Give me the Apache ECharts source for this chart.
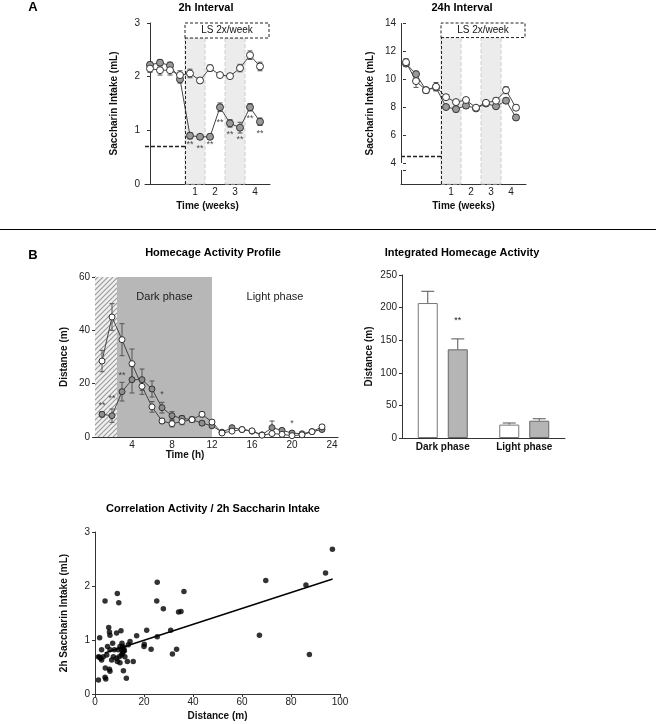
<!DOCTYPE html>
<html><head><meta charset="utf-8">
<script src="https://cdn.jsdelivr.net/npm/echarts@6/dist/echarts.min.js"></script>
<style>html,body{margin:0;padding:0;background:#fff}#c{width:656px;height:724px}</style>
</head><body><div id="c"></div>
<script>
// ---------- DATA ----------
const sessions = [0,1,2,3,4,5,6,7,8,9,10,11];
const weekLabels = ['1','2','3','4'];
const weekLabelPos = [4.5, 6.5, 8.5, 10.5];
// 2h interval
const tl_ctrl     = [2.15, 2.12, 2.12, 2.03, 2.06, 1.93, 2.16, 2.03, 2.01, 2.16, 2.40, 2.19];
const tl_ctrl_err = [0.07, 0.09, 0.09, 0.08, 0.08, 0.05, 0.06, 0.04, 0.04, 0.07, 0.08, 0.08];
const tl_ls       = [2.22, 2.26, 2.21, 1.95, 0.90, 0.88, 0.88, 1.43, 1.13, 1.05, 1.43, 1.16];
const tl_ls_err   = [0.05, 0.06, 0.06, 0.07, 0.06, 0.04, 0.05, 0.08, 0.07, 0.10, 0.07, 0.07];
const tl_stars    = [null, null, null, null, 0.73, 0.66, 0.74, 1.14, 0.92, 0.83, 1.22, 0.94];
const tl_baseline = 0.7;
// 24h interval
const tr_ctrl     = [11.2, 9.85, 9.2, 9.45, 8.7, 8.35, 8.5, 7.95, 8.3, 8.45, 9.2, 7.95];
const tr_ctrl_err = [0.25, 0.45, 0.2, 0.3, 0.15, 0.15, 0.15, 0.1, 0.15, 0.2, 0.25, 0.2];
const tr_ls       = [11.1, 10.35, 9.2, 9.4, 8.0, 7.85, 8.1, 7.9, 8.25, 8.05, 8.45, 7.25];
const tr_ls_err   = [0.2, 0.2, 0.2, 0.2, 0.15, 0.2, 0.2, 0.1, 0.1, 0.15, 0.2, 0.15];
const tr_baseline = 4.5;
// Homecage activity profile
const hours       = [1,2,3,4,5,6,7,8,9,10,11,12,13,14,15,16,17,18,19,20,21,22,23];
const act_ctrl    = [28.5, 45, 36.5, 27.5, 19, 11.3, 6, 5, 5.8, 6.5, 8.5, 5.6, 1.5, 2.2, 2.8, 2.3, 0.7, 1.3, 1.0, 0.5, 0.8, 2.0, 3.8];
const act_ctrl_err= [4, 5, 6, 5.5, 3, 2, 1, 1.2, 1.2, 1, 1, 0.8, 0.5, 0.5, 0.5, 0.5, 0.3, 0.5, 0.5, 0.3, 0.3, 0.5, 0.8];
const act_ls      = [8.5, 8, 17, 21.5, 21.5, 18, 11, 8, 7, 6.5, 5.2, 4.2, 1.8, 3.5, 2.8, 2.2, 0.8, 3.5, 2.5, 1.5, 1.2, 2.0, 2.8];
const act_ls_err  = [1, 2.5, 3.5, 5, 4, 3, 2, 1.5, 1, 1, 0.8, 0.6, 0.5, 0.6, 0.5, 0.5, 0.3, 2.5, 0.6, 0.5, 0.4, 0.5, 0.5];
const act_starX   = [1, 2, 3, 7, 20];
const act_starY   = [11.8, 14.5, 23, 16, 5];
const act_starTxt = ['**', '**', '**', '*', '*'];
const timeLabels  = [4, 8, 12, 16, 20, 24];
// Integrated activity
const barCats     = ['Dark phase', 'Light phase'];
const bar_ctrl    = [207, 20.5];
const bar_ctrl_err= [18, 2.5];
const bar_ls      = [136, 26.5];
const bar_ls_err  = [16, 3];
const bar_ls_star = ['**', ''];
const bar_ls_starY= [180, null];
// Correlation
const scatterX = [1.4,1.9,4.1,9.1,9.7,25.2,25.4,27.9,36.3,34.1,35.1,69.7,67.1,86.1,87.5,94.1,96.9,30.9,31.6,33.3,25.4,21.1,22.9,20.1,20.0,17.0,15.6,14.3,13.6,13.2,12.8,11.6,10.6,8.8,5.6,5.9,6.1,7.2,5.1,2.7,1.4,2.3,3.4,4.8,6.1,7.5,8.8,9.9,10.8,11.0,11.3,11.6,11.8,10.9,12.2,6.8,4.2,5.9,6.1,4.1,4.4,9.1,10.2,1.8,2.7,7.9,9.5,10.2,11.2,12.0];
const scatterY = [0.26,1.04,1.72,1.86,1.69,1.72,2.07,1.58,1.90,1.52,1.53,2.10,1.09,2.02,0.73,2.24,2.68,1.18,0.74,0.83,1.06,1.18,0.83,0.92,0.88,1.08,0.60,0.97,0.91,0.60,0.29,0.43,1.17,1.13,1.23,1.15,1.09,0.94,0.88,0.82,0.69,0.66,0.69,0.72,0.82,0.69,0.66,0.69,0.72,0.94,0.88,0.79,0.85,0.82,0.69,0.63,0.48,0.46,0.42,0.31,0.28,0.60,0.58,0.68,0.63,0.82,0.82,0.88,0.75,0.80];
const regX = [4, 97];
const regY = [0.76, 2.13];

// ---------- STYLE HELPERS ----------
const FONT = "'Liberation Sans', Arial, sans-serif";
const AX = '#333';
const LINE = '#444';
const GRAY_SYM = '#9a9a9a';
const zip = (xs, ys) => xs.map((x, i) => [x, ys[i]]);
const zip3 = (xs, ys, es) => xs.map((x, i) => [x, ys[i], es[i]]);

function errRender(capW, upOnly, offset) {
  return function (params, api) {
    const x = api.value(0), y = api.value(1), e = api.value(2);
    const top = api.coord([x, y + e]);
    const bot = api.coord([x, upOnly ? y : y - e]);
    const cx = top[0] + (offset || 0);
    const st = { stroke: '#555', lineWidth: 1 };
    const ch = [
      { type: 'line', shape: { x1: cx, y1: top[1], x2: cx, y2: bot[1] }, style: st },
      { type: 'line', shape: { x1: cx - capW / 2, y1: top[1], x2: cx + capW / 2, y2: top[1] }, style: st }
    ];
    if (!upOnly) ch.push({ type: 'line', shape: { x1: cx - capW / 2, y1: bot[1], x2: cx + capW / 2, y2: bot[1] }, style: st });
    return { type: 'group', children: ch };
  };
}
function errSeries(xi, data, capW, upOnly, offset) {
  return { type: 'custom', xAxisIndex: xi, yAxisIndex: xi, data: data, renderItem: errRender(capW, upOnly, offset), z: 2, silent: true };
}
function lineSeries(xi, data, fill, size) {
  return { type: 'line', xAxisIndex: xi, yAxisIndex: xi, data: data, symbol: 'circle', symbolSize: size,
    itemStyle: { color: fill, borderColor: '#333', borderWidth: 1 }, lineStyle: { color: LINE, width: 1 }, z: 3, silent: true, animation: false };
}
function starSeries(xi, data, fs) {
  return { type: 'scatter', xAxisIndex: xi, yAxisIndex: xi, data: data, symbolSize: 1, itemStyle: { color: 'rgba(0,0,0,0)' },
    label: { show: true, position: 'inside', formatter: p => p.value[2], fontSize: fs || 9, color: '#222', fontFamily: FONT }, z: 4, silent: true };
}
function yAx(gi, min, max, interval, name, gap, extra) {
  return Object.assign({ type: 'value', gridIndex: gi, min, max, interval, name, nameLocation: 'middle', nameGap: gap, nameRotate: 90,
    nameTextStyle: { fontWeight: 'bold', fontSize: 10, color: '#111', fontFamily: FONT },
    axisLine: { show: true, lineStyle: { color: AX, width: 1 } },
    axisTick: { show: true, length: 3, lineStyle: { color: AX } },
    axisLabel: { fontSize: 10, color: '#222', margin: 5, fontFamily: FONT },
    splitLine: { show: false } }, extra || {});
}
function hatchPattern() {
  const c = document.createElement('canvas'); c.width = 5; c.height = 5;
  const g = c.getContext('2d');
  g.fillStyle = '#f0f0f0'; g.fillRect(0, 0, 5, 5);
  g.strokeStyle = '#9c9c9c'; g.lineWidth = 1.2;
  g.beginPath(); g.moveTo(-1, 6); g.lineTo(6, -1); g.moveTo(-1, 1); g.lineTo(1, -1); g.moveTo(4, 6); g.lineTo(6, 4); g.stroke();
  return c;
}

const weekX = (gi) => ({ type: 'value', gridIndex: gi, min: -0.5, max: 12, name: 'Time (weeks)', nameLocation: 'middle', nameGap: 17,
  nameTextStyle: { fontWeight: 'bold', fontSize: 10, color: '#111', fontFamily: FONT },
  axisLine: { show: true, onZero: false, lineStyle: { color: AX } }, axisTick: { show: false }, splitLine: { show: false },
  axisLabel: { customValues: weekLabelPos, formatter: v => weekLabels[weekLabelPos.indexOf(v)], fontSize: 10, color: '#222', margin: 3, fontFamily: FONT } });

const lsBoxTL = [2.72, 3];
const lsBoxTR = [12.96, 14];
const lsStart = 3.5, lsEnd = 11.9;
const shade = [[3.5, 5.5], [7.5, 9.5]];

function topDecor(yMin, box, base) {
  const areas = shade.map(s => [{ xAxis: s[0], yAxis: yMin, itemStyle: { color: '#ececec', borderColor: '#cfcfcf', borderType: 'dashed', borderWidth: 1 } }, { xAxis: s[1], yAxis: box[0] }]);
  areas.push([{ xAxis: lsStart, yAxis: box[0], name: 'LS 2x/week', itemStyle: { color: '#fff', borderColor: '#222', borderType: [3, 2], borderWidth: 1 },
    label: { show: true, position: 'inside', fontSize: 10, color: '#111', fontFamily: FONT } }, { xAxis: lsEnd, yAxis: box[1] }]);
  return {
    markArea: { silent: true, data: areas },
    markLine: { silent: true, symbol: 'none', label: { show: false }, animation: false, data: [
      [{ coord: [lsStart, yMin], lineStyle: { type: [3, 2], color: '#222', width: 1 } }, { coord: [lsStart, box[0]] }],
      [{ coord: [-0.5, base], lineStyle: { type: [4, 2], color: '#222', width: 1.3 } }, { coord: [lsStart, base] }]
    ] }
  };
}

const option = {
  animation: false,
  textStyle: { fontFamily: FONT },
  grid: [
    { left: 145, top: 23, width: 125, height: 161 },
    { left: 401, top: 23, width: 125, height: 161 },
    { left: 95, top: 277, width: 243, height: 160 },
    { left: 402, top: 275, width: 163, height: 163 },
    { left: 95, top: 532, width: 245, height: 162 }
  ],
  xAxis: [
    weekX(0),
    weekX(1),
    { type: 'value', gridIndex: 2, min: 0.3, max: 24.6, axisLine: { show: true, onZero: false, lineStyle: { color: AX } }, axisTick: { show: false }, splitLine: { show: false },
      axisLabel: { customValues: timeLabels, fontSize: 10, color: '#222', margin: 3, fontFamily: FONT } },
    { type: 'category', gridIndex: 3, data: barCats, axisLine: { lineStyle: { color: AX } }, axisTick: { show: false },
      axisLabel: { fontSize: 10, fontWeight: 'bold', color: '#111', margin: 4, fontFamily: FONT } },
    { type: 'value', gridIndex: 4, min: 0, max: 100, interval: 20, name: 'Distance (m)', nameLocation: 'middle', nameGap: 17,
      nameTextStyle: { fontWeight: 'bold', fontSize: 10, color: '#111', fontFamily: FONT },
      axisLine: { show: true, lineStyle: { color: AX } }, axisTick: { show: true, length: 3, lineStyle: { color: AX } }, splitLine: { show: false },
      axisLabel: { fontSize: 10, color: '#222', margin: 3, fontFamily: FONT } }
  ],
  yAxis: [
    yAx(0, 0, 3, 1, 'Saccharin Intake (mL)', 26),
    yAx(1, 2.5, 14, 2, 'Saccharin Intake (mL)', 26, {
      axisLine: { show: false },
      axisLabel: { customValues: [4, 6, 8, 10, 12, 14], fontSize: 10, color: '#222', margin: 5, fontFamily: FONT },
      axisTick: { show: true, length: 3, customValues: [3.5, 4, 6, 8, 10, 12, 14], lineStyle: { color: AX } } }),
    yAx(2, 0, 60, 20, 'Distance (m)', 26),
    yAx(3, 0, 250, 50, 'Distance (m)', 28),
    yAx(4, 0, 3, 1, '2h Saccharin Intake (mL)', 26)
  ],
  series: [
    // ---- 2h interval ----
    Object.assign(lineSeries(0, zip(sessions, tl_ls), GRAY_SYM, 7), topDecor(0, lsBoxTL, tl_baseline)),
    lineSeries(0, zip(sessions, tl_ctrl), '#fff', 7),
    errSeries(0, zip3(sessions, tl_ls, tl_ls_err), 5, false),
    errSeries(0, zip3(sessions, tl_ctrl, tl_ctrl_err), 5, false),
    starSeries(0, sessions.map((x, i) => [x, tl_stars[i], '**']).filter(d => d[1] != null), 9),
    // ---- 24h interval ----
    Object.assign(lineSeries(1, zip(sessions, tr_ls), GRAY_SYM, 7), topDecor(2.5, lsBoxTR, tr_baseline)),
    lineSeries(1, zip(sessions, tr_ctrl), '#fff', 7),
    errSeries(1, zip3(sessions, tr_ls, tr_ls_err), 5, false),
    errSeries(1, zip3(sessions, tr_ctrl, tr_ctrl_err), 5, false),
    { type: 'line', xAxisIndex: 1, yAxisIndex: 1, data: [], silent: true,
      markLine: { silent: true, symbol: 'none', label: { show: false }, lineStyle: { type: 'solid', color: AX, width: 1 }, data: [
        [{ coord: [-0.5, 4] }, { coord: [-0.5, 14] }],
        [{ coord: [-0.5, 2.5] }, { coord: [-0.5, 3.5] }]
      ] } },
    // ---- activity profile ----
    Object.assign(lineSeries(2, zip(hours, act_ls), '#8e8e8e', 6), {
      markArea: { silent: true, data: [
        [{ xAxis: 0.3, itemStyle: { color: { image: hatchPattern(), repeat: 'repeat' } } }, { xAxis: 2.5 }],
        [{ xAxis: 2.5, name: 'Dark phase', itemStyle: { color: '#b7b7b7' },
           label: { show: true, position: 'insideTop', distance: 14, fontSize: 11, color: '#222', fontFamily: FONT } }, { xAxis: 12 }],
        [{ xAxis: 12, name: 'Light phase', itemStyle: { color: 'rgba(0,0,0,0)' },
           label: { show: true, position: 'insideTop', distance: 14, fontSize: 11, color: '#222', fontFamily: FONT } }, { xAxis: 24.6 }]
      ] } }),
    lineSeries(2, zip(hours, act_ctrl), '#fff', 6),
    errSeries(2, zip3(hours, act_ls, act_ls_err), 5, false),
    errSeries(2, zip3(hours, act_ctrl, act_ctrl_err), 5, false),
    starSeries(2, act_starX.map((x, i) => [x, act_starY[i], act_starTxt[i]]), 9),
    // ---- integrated activity ----
    { type: 'bar', xAxisIndex: 3, yAxisIndex: 3, data: bar_ctrl, barWidth: 20, barGap: '50%',
      itemStyle: { color: '#fff', borderColor: '#777', borderWidth: 1 }, z: 2, silent: true },
    { type: 'bar', xAxisIndex: 3, yAxisIndex: 3, data: bar_ls, barWidth: 20,
      itemStyle: { color: '#b5b5b5', borderColor: '#666', borderWidth: 1 }, z: 2, silent: true },
    errSeries(3, bar_ctrl.map((v, i) => [i, v, bar_ctrl_err[i]]), 13, true, -15),
    errSeries(3, bar_ls.map((v, i) => [i, v, bar_ls_err[i]]), 13, true, 15),
    { type: 'custom', xAxisIndex: 3, yAxisIndex: 3, silent: true, z: 4,
      data: bar_ls_starY.map((y, i) => [i, y, bar_ls_star[i]]).filter(d => d[1] != null),
      renderItem: (p, api) => { const c = api.coord([api.value(0), api.value(1)]);
        return { type: 'text', x: c[0] + 15, y: c[1], style: { text: bar_ls_star[api.value(0)], fontSize: 9, fill: '#222', align: 'center', verticalAlign: 'middle', fontFamily: FONT } }; } },
    // ---- correlation ----
    { type: 'scatter', xAxisIndex: 4, yAxisIndex: 4, data: zip(scatterX, scatterY), symbolSize: 5.5, itemStyle: { color: '#000' }, silent: true },
    { type: 'line', xAxisIndex: 4, yAxisIndex: 4, data: zip(regX, regY), symbol: 'none', lineStyle: { color: '#000', width: 1.4 }, silent: true }
  ],
  graphic: [
    { type: 'text', x: 33, y: 7, style: { text: 'A', font: 'bold 13px ' + FONT, fill: '#000', align: 'center', verticalAlign: 'middle' } },
    { type: 'text', x: 33, y: 255, style: { text: 'B', font: 'bold 13px ' + FONT, fill: '#000', align: 'center', verticalAlign: 'middle' } },
    { type: 'line', shape: { x1: 0, y1: 229.5, x2: 656, y2: 229.5 }, style: { stroke: '#000', lineWidth: 1 } },
    { type: 'text', x: 206, y: 8, style: { text: '2h Interval', font: 'bold 11px ' + FONT, fill: '#000', align: 'center', verticalAlign: 'middle' } },
    { type: 'text', x: 462, y: 8, style: { text: '24h Interval', font: 'bold 11px ' + FONT, fill: '#000', align: 'center', verticalAlign: 'middle' } },
    { type: 'text', x: 213, y: 253, style: { text: 'Homecage Activity Profile', font: 'bold 11px ' + FONT, fill: '#000', align: 'center', verticalAlign: 'middle' } },
    { type: 'text', x: 462, y: 253, style: { text: 'Integrated Homecage Activity', font: 'bold 11px ' + FONT, fill: '#000', align: 'center', verticalAlign: 'middle' } },
    { type: 'text', x: 213, y: 509, style: { text: 'Correlation Activity / 2h Saccharin Intake', font: 'bold 11px ' + FONT, fill: '#000', align: 'center', verticalAlign: 'middle' } },
    { type: 'text', x: 185, y: 455, style: { text: 'Time (h)', font: 'bold 10px ' + FONT, fill: '#111', align: 'center', verticalAlign: 'middle' } }
  ]
};
echarts.init(document.getElementById('c'), null, { renderer: 'canvas' }).setOption(option);
</script></body></html>
